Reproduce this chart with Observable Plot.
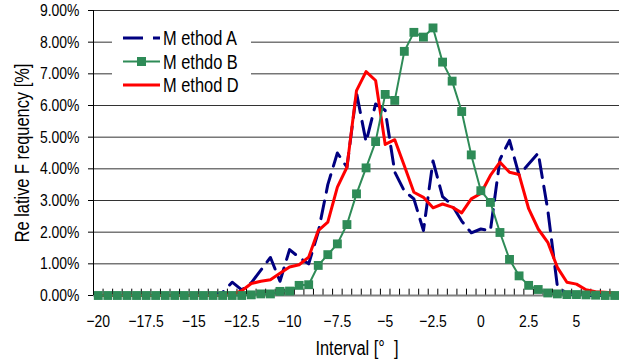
<!DOCTYPE html>
<html><head><meta charset="utf-8">
<script src="https://cdn.jsdelivr.net/npm/d3@7"></script>
<script src="https://cdn.jsdelivr.net/npm/@observablehq/plot@0.6"></script>
<style>
body{margin:0;background:#fff;}
#wrap{position:relative;width:619px;height:360px;overflow:hidden;background:#fff;
  font-family:"Liberation Sans",Arial,sans-serif;}
#wrap svg{display:block}
.ttl{position:absolute;font-size:20px;color:#000;white-space:pre;line-height:1;}
#ytitle{left:22px;top:153px;transform:translate(-50%,-50%) rotate(-90deg) scaleX(0.82);}
#xtitle{left:357px;top:348px;transform:translate(-50%,-50%) scaleX(0.82);}
#legend{position:absolute;left:112px;top:26px;width:200px;height:70px;}
</style></head><body><div id="wrap"></div>
<script>
const FONT = '"Liberation Sans",Arial,sans-serif';
const NARROW = 0.82;

// Interval categories [°]
const intervals = [-20,-19.5,-19,-18.5,-18,-17.5,-17,-16.5,-16,-15.5,-15,-14.5,-14,-13.5,-13,-12.5,-12,-11.5,-11,-10.5,
  -10,-9.5,-9,-8.5,-8,-7.5,-7,-6.5,-6,-5.5,-5,-4.5,-4,-3.5,-3,-2.5,-2,-1.5,-1,-0.5,
  0,0.5,1,1.5,2,2.5,3,3.5,4,4.5,5,5.5,6,6.5,7];

// Relative frequency [%]
const methodA = [0,0,0,0,0,0,0,0,0,0,0,0,0,0.1,0.42,0.18,0.4,0.8,1.2,0.45,
  1.45,1.2,1.0,2.0,3.5,4.5,4.05,6.4,4.85,6.05,5.85,3.9,3.3,3.05,2.05,4.25,3.12,2.85,2.35,1.98,
  2.1,2.05,4.3,4.9,3.8,4.15,4.5,2.7,0.3,0.05,0.02,0,0,0,0];
const methodB = [0,0,0,0,0,0,0,0,0,0,0,0,0,0,0,0,0.02,0.05,0.05,0.13,
  0.14,0.32,0.34,0.95,1.29,1.63,2.24,3.21,4.03,4.86,6.35,6.16,7.71,8.31,8.16,8.45,7.37,6.77,5.81,4.44,
  3.31,2.94,1.99,1.14,0.62,0.32,0.19,0.08,0.05,0.03,0.03,0.02,0.01,0,0];
const methodD = [0,0,0,0,0,0,0,0,0,0,0,0,0,0,0.03,0.15,0.38,0.45,0.5,0.7,
  0.9,0.97,1.21,2.05,2.32,3.42,4.05,6.47,7.07,6.79,4.77,4.92,4.1,3.26,3.1,2.77,2.89,2.79,2.61,3.05,
  3.22,3.79,4.21,3.89,3.82,2.74,2.1,1.68,0.89,0.42,0.36,0.18,0.12,0.1,0.08];

const yTicks = [0,1,2,3,4,5,6,7,8,9];
const xTickLabels = [-20,-17.5,-15,-12.5,-10,-7.5,-5,-2.5,0,2.5,5];

const seriesNames = ["M ethod A","M ethdo B","M ethod D"];
const colors = {A:"#000080", B:"#2e8b57", D:"#ff0000"};

const rows = intervals.map((x,i)=>({x, a:methodA[i], b:methodB[i], d:methodD[i]}));
const half = 0.25;
const boundaries = intervals.map(v=>v-half).concat([intervals[intervals.length-1]+half]);
const xDomain = [intervals[0]-half, intervals[intervals.length-1]+half];

const chart = Plot.plot({
  width: 619, height: 360,
  marginLeft: 93, marginRight: 0, marginTop: 10, marginBottom: 65,
  style: {fontFamily: FONT, fontSize: "17px", color: "#000", background: "transparent", overflow: "visible"},
  x: {domain: xDomain},
  y: {domain: [0, 9]},
  marks: [
    Plot.ruleY(yTicks, {stroke: "#333", strokeWidth: 1}),
    Plot.ruleX(boundaries, {y1: 0, y2: 0.2, stroke: "#000", strokeWidth: 1}),
    Plot.axisX({ticks: xTickLabels, tickSize: 0, tickPadding: 19, label: null, fontSize: 17,
      tickFormat: d => (d < 0 ? "\u2212" : "") + Math.abs(d)}),
    Plot.axisY({ticks: yTicks, tickSize: 5, tickPadding: 9, label: null, fontSize: 17,
      tickFormat: d => d.toFixed(2) + "%"}),
    Plot.ruleY([0], {stroke: "#808080", strokeWidth: 2}),
    Plot.ruleX([xDomain[0]], {stroke: "#000", strokeWidth: 1}),
    Plot.line(rows, {x: "x", y: "a", stroke: colors.A, strokeWidth: 3, strokeDasharray: "18,9"}),
    Plot.line(rows, {x: "x", y: "d", stroke: colors.D, strokeWidth: 3}),
    Plot.line(rows, {x: "x", y: "b", stroke: colors.B, strokeWidth: 2}),
    Plot.dot(rows, {x: "x", y: "b", symbol: "square", r: 5, fill: colors.B, stroke: "none"})
  ]
});

const wrap = document.getElementById("wrap");
wrap.appendChild(chart);

// emulate a narrow face by compressing glyphs horizontally
function narrow(el){
  const w = el.getComputedTextLength();
  if (w > 0) {
    el.setAttribute("textLength", (w*NARROW).toFixed(2));
    el.setAttribute("lengthAdjust", "spacingAndGlyphs");
  }
}
chart.querySelectorAll('g[aria-label="x-axis tick label"] text, g[aria-label="y-axis tick label"] text').forEach(narrow);

// legend
const lg = document.createElement("div");
lg.id = "legend";
const keys = ["A","B","D"];
let svg = `<svg width="200" height="70" xmlns="http://www.w3.org/2000/svg" style="overflow:visible;font-family:'Liberation Sans',Arial,sans-serif;font-size:20px">`;
svg += `<rect x="0" y="0" width="139" height="70" fill="#fff"/>`;
keys.forEach((k,i)=>{
  const y = 12 + i*23.5;
  const dash = k==="A" ? ' stroke-dasharray="20,10"' : '';
  const w = k==="A" ? 3 : (k==="B" ? 2 : 3);
  svg += `<line x1="11" x2="48" y1="${y}" y2="${y}" stroke="${colors[k]}" stroke-width="${w}"${dash}/>`;
  if (k==="B") svg += `<rect x="25" y="${y-4.5}" width="9" height="9" fill="${colors.B}"/>`;
  svg += `<text x="51" y="${y+7}" fill="#000">${seriesNames[i]}</text>`;
});
svg += `</svg>`;
lg.innerHTML = svg;
wrap.appendChild(lg);
lg.querySelectorAll("text").forEach(narrow);

const yt = document.createElement("div");
yt.className = "ttl"; yt.id = "ytitle"; yt.textContent = "Re lative F requency [%]";
wrap.appendChild(yt);
const xt = document.createElement("div");
xt.className = "ttl"; xt.id = "xtitle"; xt.textContent = "Interval [°  ]";
wrap.appendChild(xt);
</script></body></html>
